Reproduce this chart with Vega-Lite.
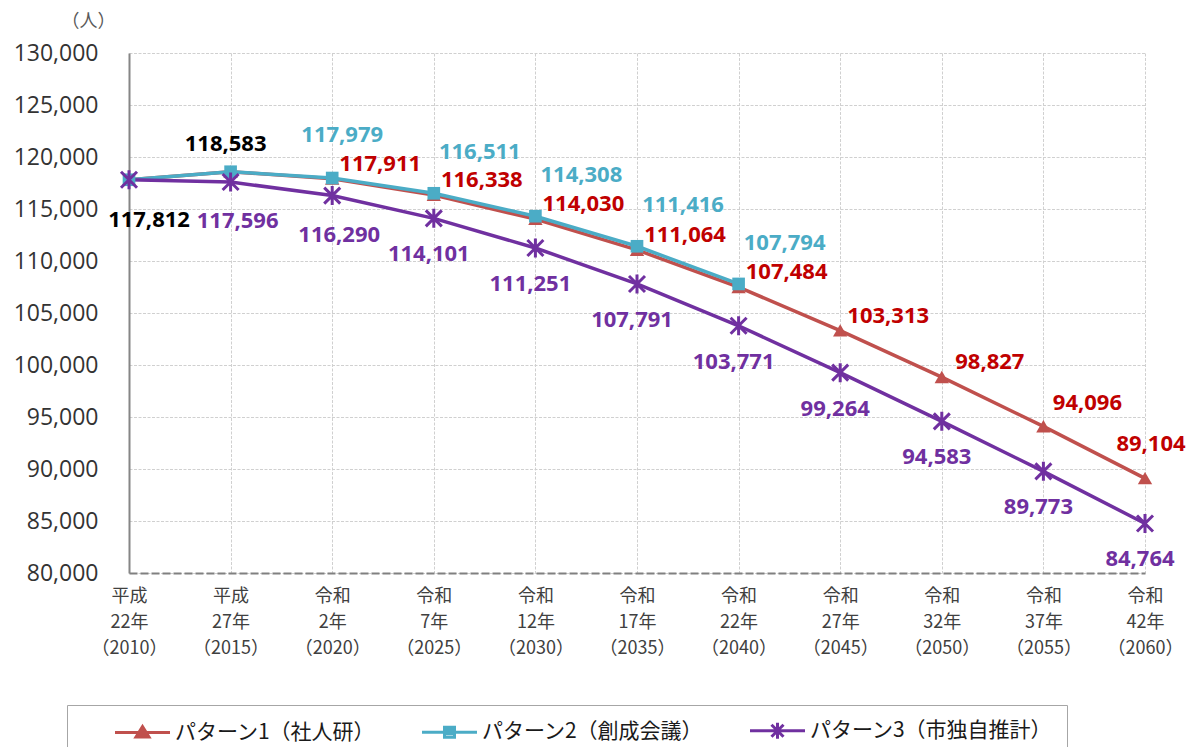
{
  "$schema": "https://vega.github.io/schema/vega-lite/v6.json",
  "width": 1016,
  "height": 520,
  "autosize": {"type": "none"},
  "padding": {"left": 129, "top": 53, "right": 45, "bottom": 174},
  "background": "white",
  "config": {"view": {"stroke": null}},
  "data": {
    "values": [
      {"series": "パターン1（社人研）", "year": 2010, "period": "平成22年（2010）", "value": 117812},
      {"series": "パターン1（社人研）", "year": 2015, "period": "平成27年（2015）", "value": 118583},
      {"series": "パターン1（社人研）", "year": 2020, "period": "令和2年（2020）", "value": 117911},
      {"series": "パターン1（社人研）", "year": 2025, "period": "令和7年（2025）", "value": 116338},
      {"series": "パターン1（社人研）", "year": 2030, "period": "令和12年（2030）", "value": 114030},
      {"series": "パターン1（社人研）", "year": 2035, "period": "令和17年（2035）", "value": 111064},
      {"series": "パターン1（社人研）", "year": 2040, "period": "令和22年（2040）", "value": 107484},
      {"series": "パターン1（社人研）", "year": 2045, "period": "令和27年（2045）", "value": 103313},
      {"series": "パターン1（社人研）", "year": 2050, "period": "令和32年（2050）", "value": 98827},
      {"series": "パターン1（社人研）", "year": 2055, "period": "令和37年（2055）", "value": 94096},
      {"series": "パターン1（社人研）", "year": 2060, "period": "令和42年（2060）", "value": 89104},
      {"series": "パターン2（創成会議）", "year": 2010, "period": "平成22年（2010）", "value": 117812},
      {"series": "パターン2（創成会議）", "year": 2015, "period": "平成27年（2015）", "value": 118583},
      {"series": "パターン2（創成会議）", "year": 2020, "period": "令和2年（2020）", "value": 117979},
      {"series": "パターン2（創成会議）", "year": 2025, "period": "令和7年（2025）", "value": 116511},
      {"series": "パターン2（創成会議）", "year": 2030, "period": "令和12年（2030）", "value": 114308},
      {"series": "パターン2（創成会議）", "year": 2035, "period": "令和17年（2035）", "value": 111416},
      {"series": "パターン2（創成会議）", "year": 2040, "period": "令和22年（2040）", "value": 107794},
      {"series": "パターン3（市独自推計）", "year": 2010, "period": "平成22年（2010）", "value": 117812},
      {"series": "パターン3（市独自推計）", "year": 2015, "period": "平成27年（2015）", "value": 117596},
      {"series": "パターン3（市独自推計）", "year": 2020, "period": "令和2年（2020）", "value": 116290},
      {"series": "パターン3（市独自推計）", "year": 2025, "period": "令和7年（2025）", "value": 114101},
      {"series": "パターン3（市独自推計）", "year": 2030, "period": "令和12年（2030）", "value": 111251},
      {"series": "パターン3（市独自推計）", "year": 2035, "period": "令和17年（2035）", "value": 107791},
      {"series": "パターン3（市独自推計）", "year": 2040, "period": "令和22年（2040）", "value": 103771},
      {"series": "パターン3（市独自推計）", "year": 2045, "period": "令和27年（2045）", "value": 99264},
      {"series": "パターン3（市独自推計）", "year": 2050, "period": "令和32年（2050）", "value": 94583},
      {"series": "パターン3（市独自推計）", "year": 2055, "period": "令和37年（2055）", "value": 89773},
      {"series": "パターン3（市独自推計）", "year": 2060, "period": "令和42年（2060）", "value": 84764}
    ]
  },
  "encoding": {
    "x": {
      "field": "period",
      "type": "ordinal",
      "scale": {
        "type": "point",
        "padding": 0,
        "domain": ["平成22年（2010）", "平成27年（2015）", "令和2年（2020）", "令和7年（2025）", "令和12年（2030）", "令和17年（2035）", "令和22年（2040）", "令和27年（2045）", "令和32年（2050）", "令和37年（2055）", "令和42年（2060）"]
      },
      "axis": {
        "title": null,
        "grid": true,
        "gridColor": "#d0d0d0",
        "gridDash": [3, 1.5],
        "gridWidth": 1,
        "ticks": false,
        "domainColor": "#808080",
        "domainWidth": 2,
        "domainDash": [8, 3],
        "labelFont": "Noto Sans CJK JP",
        "labelFontSize": 18,
        "labelColor": "#404040",
        "labelLineHeight": 26,
        "labelPadding": 14,
        "labelAngle": 0,
        "labelBaseline": "top",
        "labelOverlap": false,
        "labelExpr": "[substring(datum.value,0,2), substring(datum.value,2,indexof(datum.value,'年')+1), substring(datum.value,indexof(datum.value,'（'))]"
      }
    },
    "y": {
      "field": "value",
      "type": "quantitative",
      "scale": {"domain": [80000, 130000], "nice": false, "zero": false},
      "axis": {
        "title": "（人）",
        "titleAngle": 0,
        "titleX": -41,
        "titleY": -32,
        "titleAlign": "center",
        "titleBaseline": "middle",
        "titleFont": "Noto Sans CJK JP",
        "titleFontSize": 18,
        "titleFontWeight": "normal",
        "titleColor": "#595959",
        "values": [80000, 85000, 90000, 95000, 100000, 105000, 110000, 115000, 120000, 125000, 130000],
        "format": ",.0f",
        "grid": true,
        "gridColor": "#d0d0d0",
        "gridDash": [3, 1.5],
        "gridWidth": 1,
        "ticks": false,
        "domainColor": "#868686",
        "domainWidth": 2,
        "labelFont": "Open Sans",
        "labelFontSize": 23,
        "labelColor": "#333333",
        "labelPadding": 31
      }
    }
  },
  "layer": [
    {
      "mark": {"type": "line", "strokeWidth": 3.5},
      "encoding": {
        "stroke": {
          "field": "series",
          "type": "nominal",
          "scale": {"range": ["#C0504D", "#4BACC6", "#7030A0"]},
          "legend": null
        },
        "order": {"field": "year", "type": "quantitative"}
      }
    },
    {
      "transform": [{"filter": "datum.series === 'パターン1（社人研）'"}],
      "mark": {"type": "point", "shape": "M0,-0.8L0.9,0.75L-0.9,0.75Z", "size": 256, "filled": true, "color": "#C0504D", "opacity": 1}
    },
    {
      "transform": [{"filter": "datum.series === 'パターン2（創成会議）'"}],
      "mark": {"type": "point", "shape": "square", "size": 160, "filled": true, "color": "#4BACC6", "opacity": 1}
    },
    {
      "transform": [{"filter": "datum.series === 'パターン3（市独自推計）'"}],
      "mark": {"type": "point", "shape": "M-0.8,-0.8L0.8,0.8M0.8,-0.8L-0.8,0.8M0,-0.95V0.95", "size": 400, "filled": false, "color": "#7030A0", "strokeWidth": 3, "opacity": 1}
    },
    {
      "transform": [{"filter": "false"}],
      "mark": {"type": "point", "filled": false, "opacity": 1, "strokeWidth": 3},
      "encoding": {
        "color": {
          "field": "series",
          "type": "nominal",
          "scale": {"domain": ["パターン1（社人研）", "パターン2（創成会議）", "パターン3（市独自推計）"], "range": ["#C0504D", "#4BACC6", "#7030A0"]},
          "legend": {
            "orient": "none", "legendX": -62, "legendY": 652, "direction": "horizontal", "title": null,
            "strokeColor": "#A6A6A6", "fillColor": "white", "padding": 14,
            "symbolSize": 400, "symbolStrokeWidth": 3, "symbolOffset": 50, "labelOffset": 21, "columnPadding": 12,
            "labelFont": "Noto Sans CJK JP", "labelFontSize": 21, "labelColor": "#1a1a1a", "labelLimit": 400
          }
        },
        "shape": {
          "field": "series",
          "type": "nominal",
          "scale": {"domain": ["パターン1（社人研）", "パターン2（創成会議）", "パターン3（市独自推計）"], "range": [
            "M-2.75,0H2.75M0,-0.6L0.65,0.45L-0.65,0.45ZM-0.45,0.2H0.45M-0.3,-0.05H0.3M-0.15,-0.3H0.15",
            "M-2.75,0H2.75M-0.5,-0.5H0.5V0.5H-0.5ZM-0.5,-0.2H0.5M-0.5,0.15H0.5",
            "M-2.75,0H2.75M-0.6,-0.6L0.6,0.6M0.6,-0.6L-0.6,0.6M0,-0.8V0.8"
          ]},
          "legend": {
            "orient": "none", "legendX": -62, "legendY": 652, "direction": "horizontal", "title": null,
            "strokeColor": "#A6A6A6", "fillColor": "white", "padding": 14,
            "symbolSize": 400, "symbolStrokeWidth": 3, "symbolOffset": 50, "labelOffset": 21, "columnPadding": 12,
            "labelFont": "Noto Sans CJK JP", "labelFontSize": 21, "labelColor": "#1a1a1a", "labelLimit": 400
          }
        }
      }
    },
    {
      "transform": [{"filter": "datum.series === 'パターン1（社人研）' && datum.year === 2010"}],
      "mark": {"type": "text", "font": "Open Sans", "fontSize": 22, "fontWeight": "bold", "color": "#000000", "dx": 20, "dy": 40},
      "encoding": {"text": {"field": "value", "type": "quantitative", "format": ","}}
    },
    {
      "transform": [{"filter": "datum.series === 'パターン1（社人研）' && datum.year === 2015"}],
      "mark": {"type": "text", "font": "Open Sans", "fontSize": 22, "fontWeight": "bold", "color": "#000000", "dx": -5, "dy": -28},
      "encoding": {"text": {"field": "value", "type": "quantitative", "format": ","}}
    },
    {
      "transform": [{"filter": "datum.series === 'パターン1（社人研）' && datum.year >= 2020 && datum.year <= 2050"}],
      "mark": {"type": "text", "font": "Open Sans", "fontSize": 22, "fontWeight": "bold", "color": "#C00000", "dx": 48, "dy": -15},
      "encoding": {"text": {"field": "value", "type": "quantitative", "format": ","}}
    },
    {
      "transform": [{"filter": "datum.series === 'パターン1（社人研）' && datum.year === 2055"}],
      "mark": {"type": "text", "font": "Open Sans", "fontSize": 22, "fontWeight": "bold", "color": "#C00000", "dx": 44, "dy": -23},
      "encoding": {"text": {"field": "value", "type": "quantitative", "format": ","}}
    },
    {
      "transform": [{"filter": "datum.series === 'パターン1（社人研）' && datum.year === 2060"}],
      "mark": {"type": "text", "font": "Open Sans", "fontSize": 22, "fontWeight": "bold", "color": "#C00000", "dx": 6, "dy": -34},
      "encoding": {"text": {"field": "value", "type": "quantitative", "format": ","}}
    },
    {
      "transform": [{"filter": "datum.series === 'パターン2（創成会議）' && datum.year === 2020"}],
      "mark": {"type": "text", "font": "Open Sans", "fontSize": 22, "fontWeight": "bold", "color": "#4BACC6", "dx": 10, "dy": -43},
      "encoding": {"text": {"field": "value", "type": "quantitative", "format": ","}}
    },
    {
      "transform": [{"filter": "datum.series === 'パターン2（創成会議）' && datum.year >= 2025"}],
      "mark": {"type": "text", "font": "Open Sans", "fontSize": 22, "fontWeight": "bold", "color": "#4BACC6", "dx": 46, "dy": -41},
      "encoding": {"text": {"field": "value", "type": "quantitative", "format": ","}}
    },
    {
      "transform": [{"filter": "datum.series === 'パターン3（市独自推計）' && (datum.year === 2015 || datum.year === 2020)"}],
      "mark": {"type": "text", "font": "Open Sans", "fontSize": 22, "fontWeight": "bold", "color": "#7030A0", "dx": 7, "dy": 39},
      "encoding": {"text": {"field": "value", "type": "quantitative", "format": ","}}
    },
    {
      "transform": [{"filter": "datum.series === 'パターン3（市独自推計）' && datum.year >= 2025"}],
      "mark": {"type": "text", "font": "Open Sans", "fontSize": 22, "fontWeight": "bold", "color": "#7030A0", "dx": -5, "dy": 36},
      "encoding": {"text": {"field": "value", "type": "quantitative", "format": ","}}
    }
  ]
}
